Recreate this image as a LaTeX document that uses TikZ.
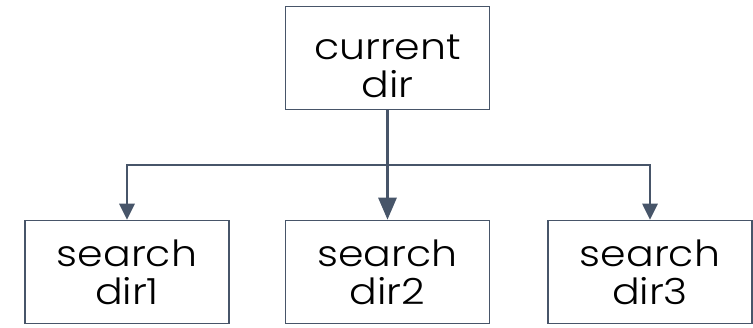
\documentclass[tikz,border=0pt]{standalone}
\usepackage{fontspec}
\setmainfont[FakeStretch=1.14]{Poppins Light}
\usetikzlibrary{arrows.meta}
\definecolor{slate}{HTML}{475569}
\tikzset{
  boxfont/.style={font=\fontsize{36}{38}\selectfont, text=black, align=center, inner sep=0pt},
  box/.style={draw=slate, line width=1.6pt, minimum width=204pt, minimum height=103pt, boxfont},
  conn/.style={draw=slate, line width=2.8pt},
  arr/.style={conn, -{Triangle[length=16pt,width=15pt]}},
  bigarr/.style={conn, -{Triangle[length=22pt,width=18pt]}}
}
\begin{document}
\begin{tikzpicture}[x=1pt,y=1pt]
\useasboundingbox (0,0) rectangle (753,327);
\node[box] (top) at (387.5,269) {};
\node[boxfont] (toptext) at ([yshift=-8pt]top.center) {current\\dir};
\node[box] (s1) at (127,55) {search\\dir1};
\node[box] (s2) at (387.5,55) {search\\dir2};
\node[box] (s3) at (650,55) {search\\dir3};
\coordinate (j) at (387.5,162);
\draw[conn] (top.south) -- (j);
\draw[arr] (j) -| (s1.north);
\draw[arr] (j) -| (s3.north);
\draw[bigarr] (top.south) -- (s2.north);
\end{tikzpicture}
\end{document}
